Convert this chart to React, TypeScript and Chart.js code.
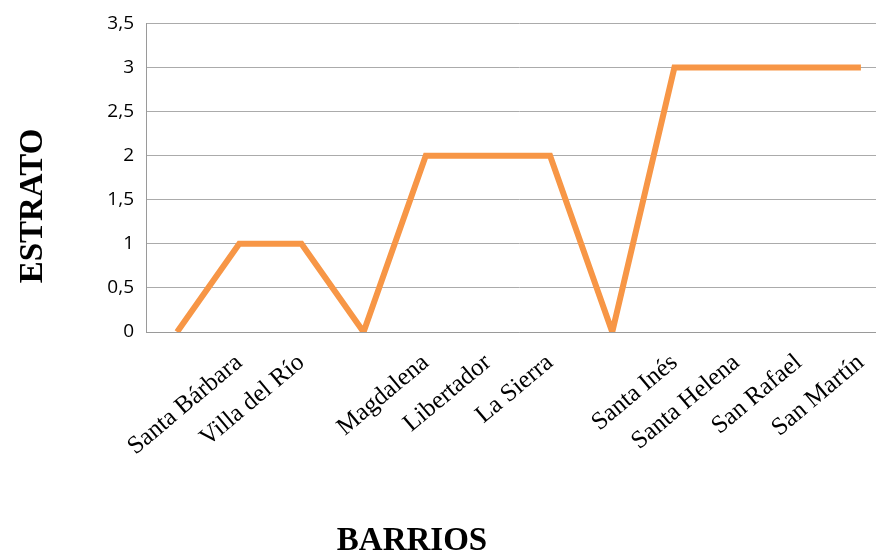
import React, { useEffect, useRef } from "react";
import { Chart, registerables } from "chart.js";

Chart.register(...registerables);

const barrios: string[] = [
  "",
  "Santa Bárbara",
  "Villa del Río",
  "",
  "Magdalena",
  "Libertador",
  "La Sierra",
  "",
  "Santa Inés",
  "Santa Helena",
  "San Rafael",
  "San Martín",
];
const estrato: number[] = [0, 1, 1, 0, 2, 2, 2, 0, 3, 3, 3, 3];
const yMin = 0;
const yMax = 3.5;
const yStep = 0.5;
const xTitle = "BARRIOS";
const yTitle = "ESTRATO";

const titlesPlugin = {
  id: "axisTitles",
  afterDraw(chart: any) {
    const ctx = chart.ctx;
    ctx.save();
    ctx.fillStyle = "#000";
    ctx.font = "bold 33px 'Liberation Serif'";
    ctx.textAlign = "center";
    ctx.textBaseline = "middle";
    ctx.fillText(xTitle, 412, 541);
    ctx.translate(33, 206);
    ctx.rotate(-Math.PI / 2);
    ctx.fillText(yTitle, 0, 0);
    ctx.restore();
  },
};

export default function App() {
  const ref = useRef<HTMLCanvasElement | null>(null);
  useEffect(() => {
    if (!ref.current) return;
    const chart = new Chart(ref.current, {
      type: "line",
      data: {
        labels: barrios,
        datasets: [
          {
            data: estrato,
            borderColor: "#F79646",
            backgroundColor: "#F79646",
            borderWidth: 6,
            pointRadius: 0,
            tension: 0,
            borderJoinStyle: "miter",
            clip: 0,
          } as any,
        ],
      },
      options: {
        responsive: false,
        animation: false,
        plugins: { legend: { display: false }, tooltip: { enabled: false } },
        layout: { padding: { top: 22, right: 0, bottom: 0, left: 0 } },
        scales: {
          x: {
            offset: true,
            grid: { display: false, offset: true },
            border: { display: true, color: "#9a9a9a", width: 1 },
            ticks: {
              autoSkip: false,
              minRotation: 40,
              maxRotation: 40,
              padding: 8,
              color: "#000",
              font: { family: "'Liberation Serif'", size: 25 },
            },
            afterFit(scale: any) {
              scale.height = 224;
            },
          },
          y: {
            min: yMin,
            max: yMax,
            ticks: {
              stepSize: yStep,
              padding: 12,
              color: "#000",
              font: { family: "'Open Sans'", size: 19 },
              callback: (v: any) => String(v).replace(".", ","),
            },
            grid: { color: "#ababab", lineWidth: 1, drawTicks: false },
            border: { display: true, color: "#9a9a9a", width: 1 },
            afterFit(scale: any) {
              scale.width = 146;
            },
          },
        },
      },
      plugins: [titlesPlugin],
    });
    return () => chart.destroy();
  }, []);
  return (
    <div
      style={{
        position: "fixed",
        left: 0,
        top: 0,
        width: 876,
        height: 556,
        overflow: "hidden",
        background: "#fff",
      }}
    >
      <canvas ref={ref} width={892} height={556} style={{ width: 892, height: 556, display: "block" }} />
    </div>
  );
}
